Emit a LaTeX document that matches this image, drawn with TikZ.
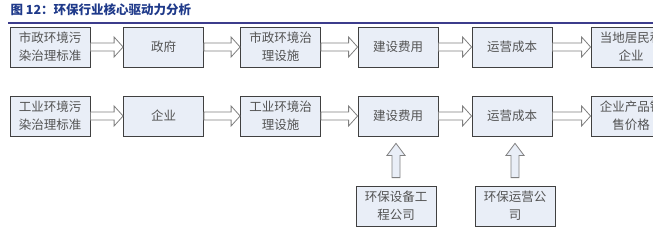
\documentclass[tikz,border=0pt]{standalone}
\usepackage{fontspec}
\setmainfont{Noto Sans CJK SC}
\usepackage{xcolor}
\usetikzlibrary{calc,positioning}
\definecolor{titleblue}{HTML}{1F3A8A}
\definecolor{rulenavy}{HTML}{3C3C8C}
\definecolor{boxfill}{HTML}{E9EEF7}
\definecolor{boxline}{HTML}{404040}
\definecolor{arrline}{HTML}{808080}
\newcommand{\Body}{\fontsize{12.5}{18}\selectfont}
\newcommand{\Head}{\fontsize{12.5}{15}\selectfont\bfseries}
\tikzset{
  stagebox/.style={draw=boxline, line width=0.8pt, fill=boxfill, text=boxline!90!white,
    minimum width=80pt, minimum height=40pt, inner sep=0pt, align=center, font=\Body},
  fatarrow/.style={draw=arrline, line width=0.8pt, fill=white, line join=miter}
}
% block arrows between named boxes
\newcommand{\rightarr}[2]{\draw[fatarrow] let \p1=(#1.east), \p2=(#2.west) in
  (\x1,\y1+4) -- (\x2-9,\y1+4) -- (\x2-9,\y1+10) -- (\x2,\y1) -- (\x2-9,\y1-10)
  -- (\x2-9,\y1-4) -- (\x1,\y1-4) -- cycle;}
\newcommand{\uparr}[2]{\draw[fatarrow, fill=boxfill] let \p1=(#1.north), \p2=(#2.south) in
  (\x1-4,\y1+8) -- (\x1-4,\y2-19) -- (\x1-9,\y2-19) -- (\x1,\y2-7) -- (\x1+9,\y2-19)
  -- (\x1+4,\y2-19) -- (\x1+4,\y1+8) -- cycle;}
\begin{document}
\begin{tikzpicture}[x=1pt,y=-1pt]
  \clip (0,0) rectangle (653,233);
  \node[anchor=west, text=titleblue, font=\Head] (title) at (7,10) {图 12：环保行业核心驱动力分析};
  \draw[rulenavy, line width=1.6pt] (8,23) -- (653,23);
  \foreach \nm/\cx/\txt in {a1/50/{市政环境污\\染治理标准}, a2/163.5/政府, a3/280.5/{市政环境治\\理设施},
                            a4/398/建设费用, a5/512/运营成本, a6/631/{当地居民和\\企业}}{
    \node[stagebox] (\nm) at (\cx,47) {\txt};
  }
  \foreach \nm/\cx/\txt in {b1/50/{工业环境污\\染治理标准}, b2/163.5/企业, b3/280.5/{工业环境治\\理设施},
                            b4/398/建设费用, b5/512/运营成本, b6/631/{企业产品销\\售价格}}{
    \node[stagebox] (\nm) at (\cx,116) {\txt};
  }
  \node[stagebox] (eng) at (396,206) {环保设备工\\程公司};
  \node[stagebox] (ops) at (515,206) {环保运营公\\司};
  \foreach \a/\b in {a1/a2, a2/a3, a3/a4, a4/a5, a5/a6, b1/b2, b2/b3, b3/b4, b4/b5, b5/b6}
    \rightarr{\a}{\b};
  \uparr{eng}{b4}
  \uparr{ops}{b5}
\end{tikzpicture}
\end{document}
